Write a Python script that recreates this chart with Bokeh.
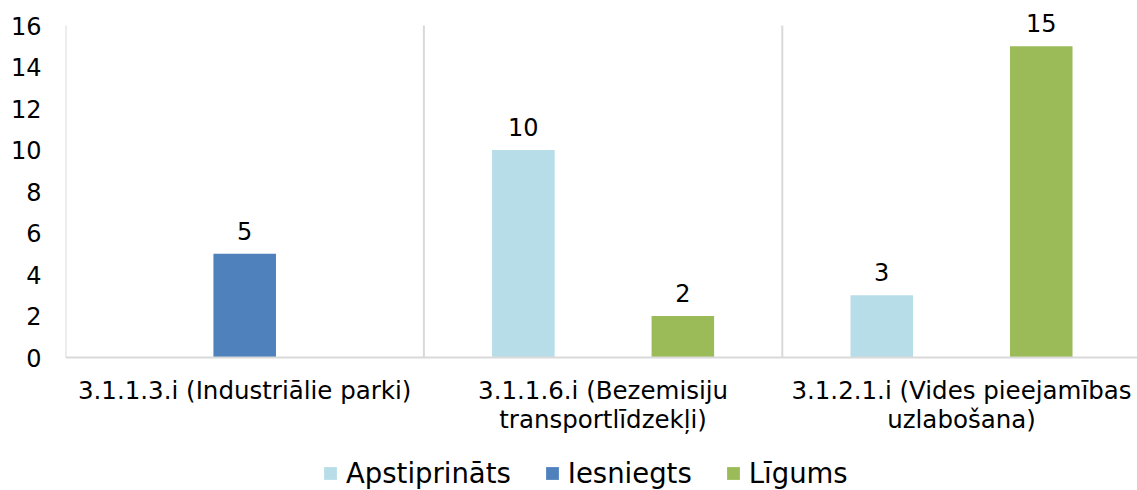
from bokeh.plotting import figure
from bokeh.models import ColumnDataSource, FixedTicker, Range1d, Legend, LegendItem, LabelSet, Span
from bokeh.core.properties import value
from bokeh.embed import file_html
from bokeh.resources import INLINE

categories = ["3.1.1.3.i (Industriālie parki)",
              "3.1.1.6.i (Bezemisiju\ntransportlīdzekļi)",
              "3.1.2.1.i (Vides pieejamības\nuzlabošana)"]
series = ["Apstiprināts", "Iesniegts", "Līgums"]
apstiprinats = [0, 10, 3]
iesniegts = [5, 0, 0]
ligums = [0, 2, 15]
colors = ["#b7dee8", "#4f81bd", "#9bbb59"]
y_ticks = [0, 2, 4, 6, 8, 10, 12, 14, 16]

FONT = "DejaVu Sans"
offsets = [-0.2225, 0.0, 0.2225]
bar_w = 0.1745

W, H = 1137, 490
LEFT_PX = 65                        # frame left edge
CAT_PX = 358.4                      # pixel width of one category slot
TOP_PX, ZERO_PX = 25, 357           # pixel rows of the value axis top (16) and zero
y_max = y_ticks[-1]
ppu = (ZERO_PX - TOP_PX) / y_max    # pixels per value unit
n = len(categories)

p = figure(width=W, height=H, output_backend="svg", toolbar_location=None,
           x_range=Range1d(0, (W - LEFT_PX) / CAT_PX),
           y_range=Range1d(-(H - ZERO_PX) / ppu, y_max + TOP_PX / ppu),
           min_border_left=LEFT_PX, min_border_right=0, min_border_top=0, min_border_bottom=0)
p.outline_line_color = None
p.xaxis.visible = False

# category separators (vertical grid) and value-axis baseline
p.segment(x0=list(range(n + 1)), y0=[0] * (n + 1), x1=list(range(n + 1)), y1=[y_max] * (n + 1),
          line_color="#d9d9d9", line_width=2)
p.add_layout(Span(location=0, dimension="width", line_color="#d9d9d9", line_width=2))

items = []
for name, vals, col, off in zip(series, [apstiprinats, iesniegts, ligums], colors, offsets):
    xs = [i + 0.5 + off for i, v in enumerate(vals) if v > 0]
    ys = [v for v in vals if v > 0]
    src = ColumnDataSource(dict(x=xs, y=ys, lab=[str(v) for v in ys]))
    r = p.vbar(x="x", top="y", width=bar_w, source=src, fill_color=col, line_color=None)
    items.append(LegendItem(label=name, renderers=[r]))
    p.add_layout(LabelSet(x="x", y="y", text="lab", source=src, text_align="center",
                          text_baseline="alphabetic", y_offset=14, text_font=value(FONT),
                          text_font_size="24px", text_color="#000000"))

# category labels below the baseline (two lines)
line1 = [c.split("\n")[0] for c in categories]
line2 = [c.split("\n")[1] if "\n" in c else "" for c in categories]
cat_src = ColumnDataSource(dict(x=[i + 0.5 for i in range(n)],
                                y1=[-41 / ppu] * n, y2=[-70 / ppu] * n,
                                l1=line1, l2=line2))
for ycol, tcol in (("y1", "l1"), ("y2", "l2")):
    p.add_layout(LabelSet(x="x", y=ycol, text=tcol, source=cat_src, text_align="center",
                          text_baseline="alphabetic", text_font=value(FONT),
                          text_font_size="24.5px", text_color="#000000"))

p.yaxis.ticker = FixedTicker(ticks=y_ticks)
p.yaxis.major_label_text_font = FONT
p.yaxis.major_label_text_font_size = "24px"
p.yaxis.major_label_text_color = "#000000"
p.yaxis.major_label_standoff = 18
p.yaxis.major_tick_line_color = None
p.yaxis.minor_tick_line_color = None
p.yaxis.axis_line_color = None

p.xgrid.grid_line_color = None
p.ygrid.grid_line_color = None

legend = Legend(items=items, orientation="horizontal", location=(257, 1),
                label_text_font=FONT, label_text_font_size="27.5px", label_text_color="#000000",
                glyph_width=16, glyph_height=16, spacing=33, label_standoff=8,
                border_line_color=None, background_fill_alpha=0, padding=0, margin=0)
p.add_layout(legend, "center")

open("out.html", "w").write(file_html(p, INLINE))
